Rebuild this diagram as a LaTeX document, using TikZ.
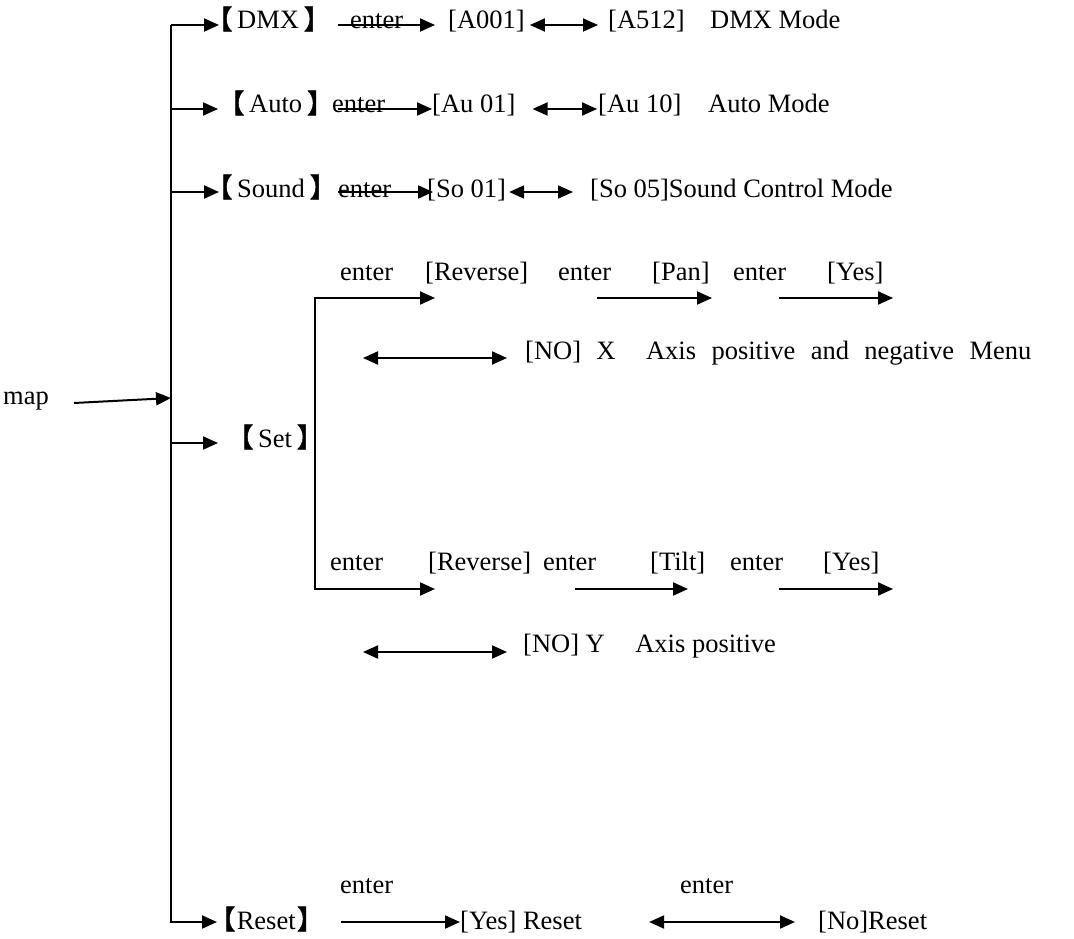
\documentclass[tikz,border=0pt]{standalone}
\usepackage{fontspec}
\setmainfont{Liberation Serif}
\newfontfamily\cjk{Noto Sans CJK SC}[FakeBold=2]
\usetikzlibrary{arrows.meta}
\newcommand{\lbk}{{\cjk\kern-0.5em 【\kern0.18em}}
\newcommand{\rbk}{{\cjk\kern0.18em 】\kern-0.5em}}
\newcommand{\wgap}{\hspace{0.58em}}
\newcommand{\xgap}{\hspace{1.15em}}

\begin{document}
\begin{tikzpicture}[
    x=1pt, y=-1pt,
    every node/.style={font=\fontsize{26.5}{30}\selectfont, inner sep=0pt, anchor=base west},
    arr/.style={-{Triangle[length=15pt,width=13pt]}, line width=2pt},
    darr/.style={{Triangle[length=15pt,width=13pt]}-{Triangle[length=15pt,width=13pt]}, line width=2pt},
  ]
  \useasboundingbox (0,0) rectangle (1074,939);

  % ============ Root ============
  \node (map) at (3,404) {map};
  \coordinate (maptail) at (74,403);
  \coordinate (mapin) at (171,398);

  % trunk junctions
  \coordinate (jdmx)   at (171,25);
  \coordinate (jauto)  at (171,109);
  \coordinate (jsound) at (171,192);
  \coordinate (jset)   at (171,443);
  \coordinate (jreset) at (171,922);

  % ============ DMX ============
  \node (dmx)     at (219,29) {\lbk DMX\rbk};
  \node (enter1)  at (350,29) {enter};
  \node (a001)    at (448,29) {[A001]};
  \node (a512)    at (608,29) {[A512]};
  \node (dmxmode) at (710,29) {DMX Mode};

  % ============ Auto ============
  \node (auto)     at (231,113) {\lbk Auto\rbk};
  \node (enter2)   at (332,113) {enter};
  \node (au01)     at (432,113) {[Au 01]};
  \node (au10)     at (598,113) {[Au 10]};
  \node (automode) at (708,113) {Auto Mode};

  % ============ Sound ============
  \node (sound)  at (219,197) {\lbk Sound\rbk};
  \node (enter3) at (338,197) {enter};
  \node (so01)   at (427,197) {[So 01]};
  \node (so05)   at (590,197) {[So 05]Sound Control Mode};

  % ============ Set ============
  \node (set) at (240,447) {\lbk Set\rbk};
  \coordinate (sett) at (315,298);
  \coordinate (setb) at (315,589);

  % Pan branch
  \node (enterp1) at (340,280) {enter};
  \node (revp)    at (425,280) {[Reverse]};
  \node (enterp2) at (558,280) {enter};
  \node (pan)     at (652,280) {[Pan]};
  \node (enterp3) at (733,280) {enter};
  \node (yesp)    at (827,280) {[Yes]};
  \node (nox)     at (525,359) {[NO]\wgap X\xgap Axis\wgap positive\wgap and\wgap negative\wgap Menu};
  \coordinate (pa1) at (597,298);
  \coordinate (pa2) at (712,298);
  \coordinate (pa3) at (779,298);
  \coordinate (pa4) at (893,298);
  \coordinate (nxl) at (363,358);

  % Tilt branch
  \node (entert1) at (330,570) {enter};
  \node (revt)    at (428,570) {[Reverse]};
  \node (entert2) at (543,570) {enter};
  \node (tilt)    at (650,570) {[Tilt]};
  \node (entert3) at (730,570) {enter};
  \node (yest)    at (823,570) {[Yes]};
  \node (noy)     at (523,652) {[NO] Y\xgap Axis positive};
  \coordinate (ta1) at (575,589);
  \coordinate (ta2) at (688,589);
  \coordinate (ta3) at (779,589);
  \coordinate (ta4) at (893,589);
  \coordinate (nyl) at (363,652);

  % ============ Reset ============
  \node (reset)   at (222,929) {{\cjk\kern-0.5em 【\kern0.05em}Reset{\cjk\kern0.05em 】\kern-0.5em}};
  \node (enterr1) at (340,893) {enter};
  \node (yesr)    at (460,929) {[Yes] Reset};
  \node (enterr2) at (680,893) {enter};
  \node (nor)     at (818,929) {[No]Reset};

  % ============ Arrows ============
  % map -> trunk
  \draw[arr] (maptail) -- (mapin);

  % trunk with the Reset branch
  \draw[arr, shorten >=5pt] (jdmx) -- (jreset) -- (jreset -| reset.west);

  % trunk -> menus
  \draw[arr] (jdmx) -- (jdmx -| dmx.west);
  \draw[arr, shorten >=13pt] (jauto) -- (jauto -| auto.west);
  \draw[arr] (jsound) -- (jsound -| sound.west);
  \draw[arr, shorten >=22pt] (jset) -- (jset -| set.west);

  % DMX row
  \draw[arr, shorten <=-12pt, shorten >=13pt] (enter1.west |- jdmx) -- (a001.west |- jdmx);
  \draw[darr, shorten <=5pt, shorten >=10pt] (a001.east |- jdmx) -- (a512.west |- jdmx);

  % Auto row
  \draw[arr, shorten <=6pt] (enter2.west |- jauto) -- (au01.west |- jauto);
  \draw[darr, shorten <=17pt, shorten >=1pt] (au01.east |- jauto) -- (au10.west |- jauto);

  % Sound row
  \draw[arr, shorten >=-6pt] (enter3.west |- jsound) -- (so01.west |- jsound);
  \draw[darr, shorten <=3pt, shorten >=17pt] (so01.east |- jsound) -- (so05.west |- jsound);

  % Set split
  \draw[arr, shorten >=-10pt] (setb) -- (sett) -- (sett -| revp.west);
  \draw[arr, shorten >=-7pt] (sett) -- (setb) -- (setb -| revt.west);
  \draw[arr] (pa1) -- (pa2);
  \draw[arr] (pa3) -- (pa4);
  \draw[darr, shorten >=18pt] (nxl) -- (nxl -| nox.west);
  \draw[arr] (ta1) -- (ta2);
  \draw[arr] (ta3) -- (ta4);
  \draw[darr, shorten >=16pt] (nyl) -- (nyl -| noy.west);

  % Reset row
  \draw[arr, shorten <=31pt] (reset.east |- jreset) -- (yesr.west |- jreset);
  \draw[darr, shorten <=67pt, shorten >=23pt] (yesr.east |- jreset) -- (nor.west |- jreset);

\end{tikzpicture}
\end{document}
